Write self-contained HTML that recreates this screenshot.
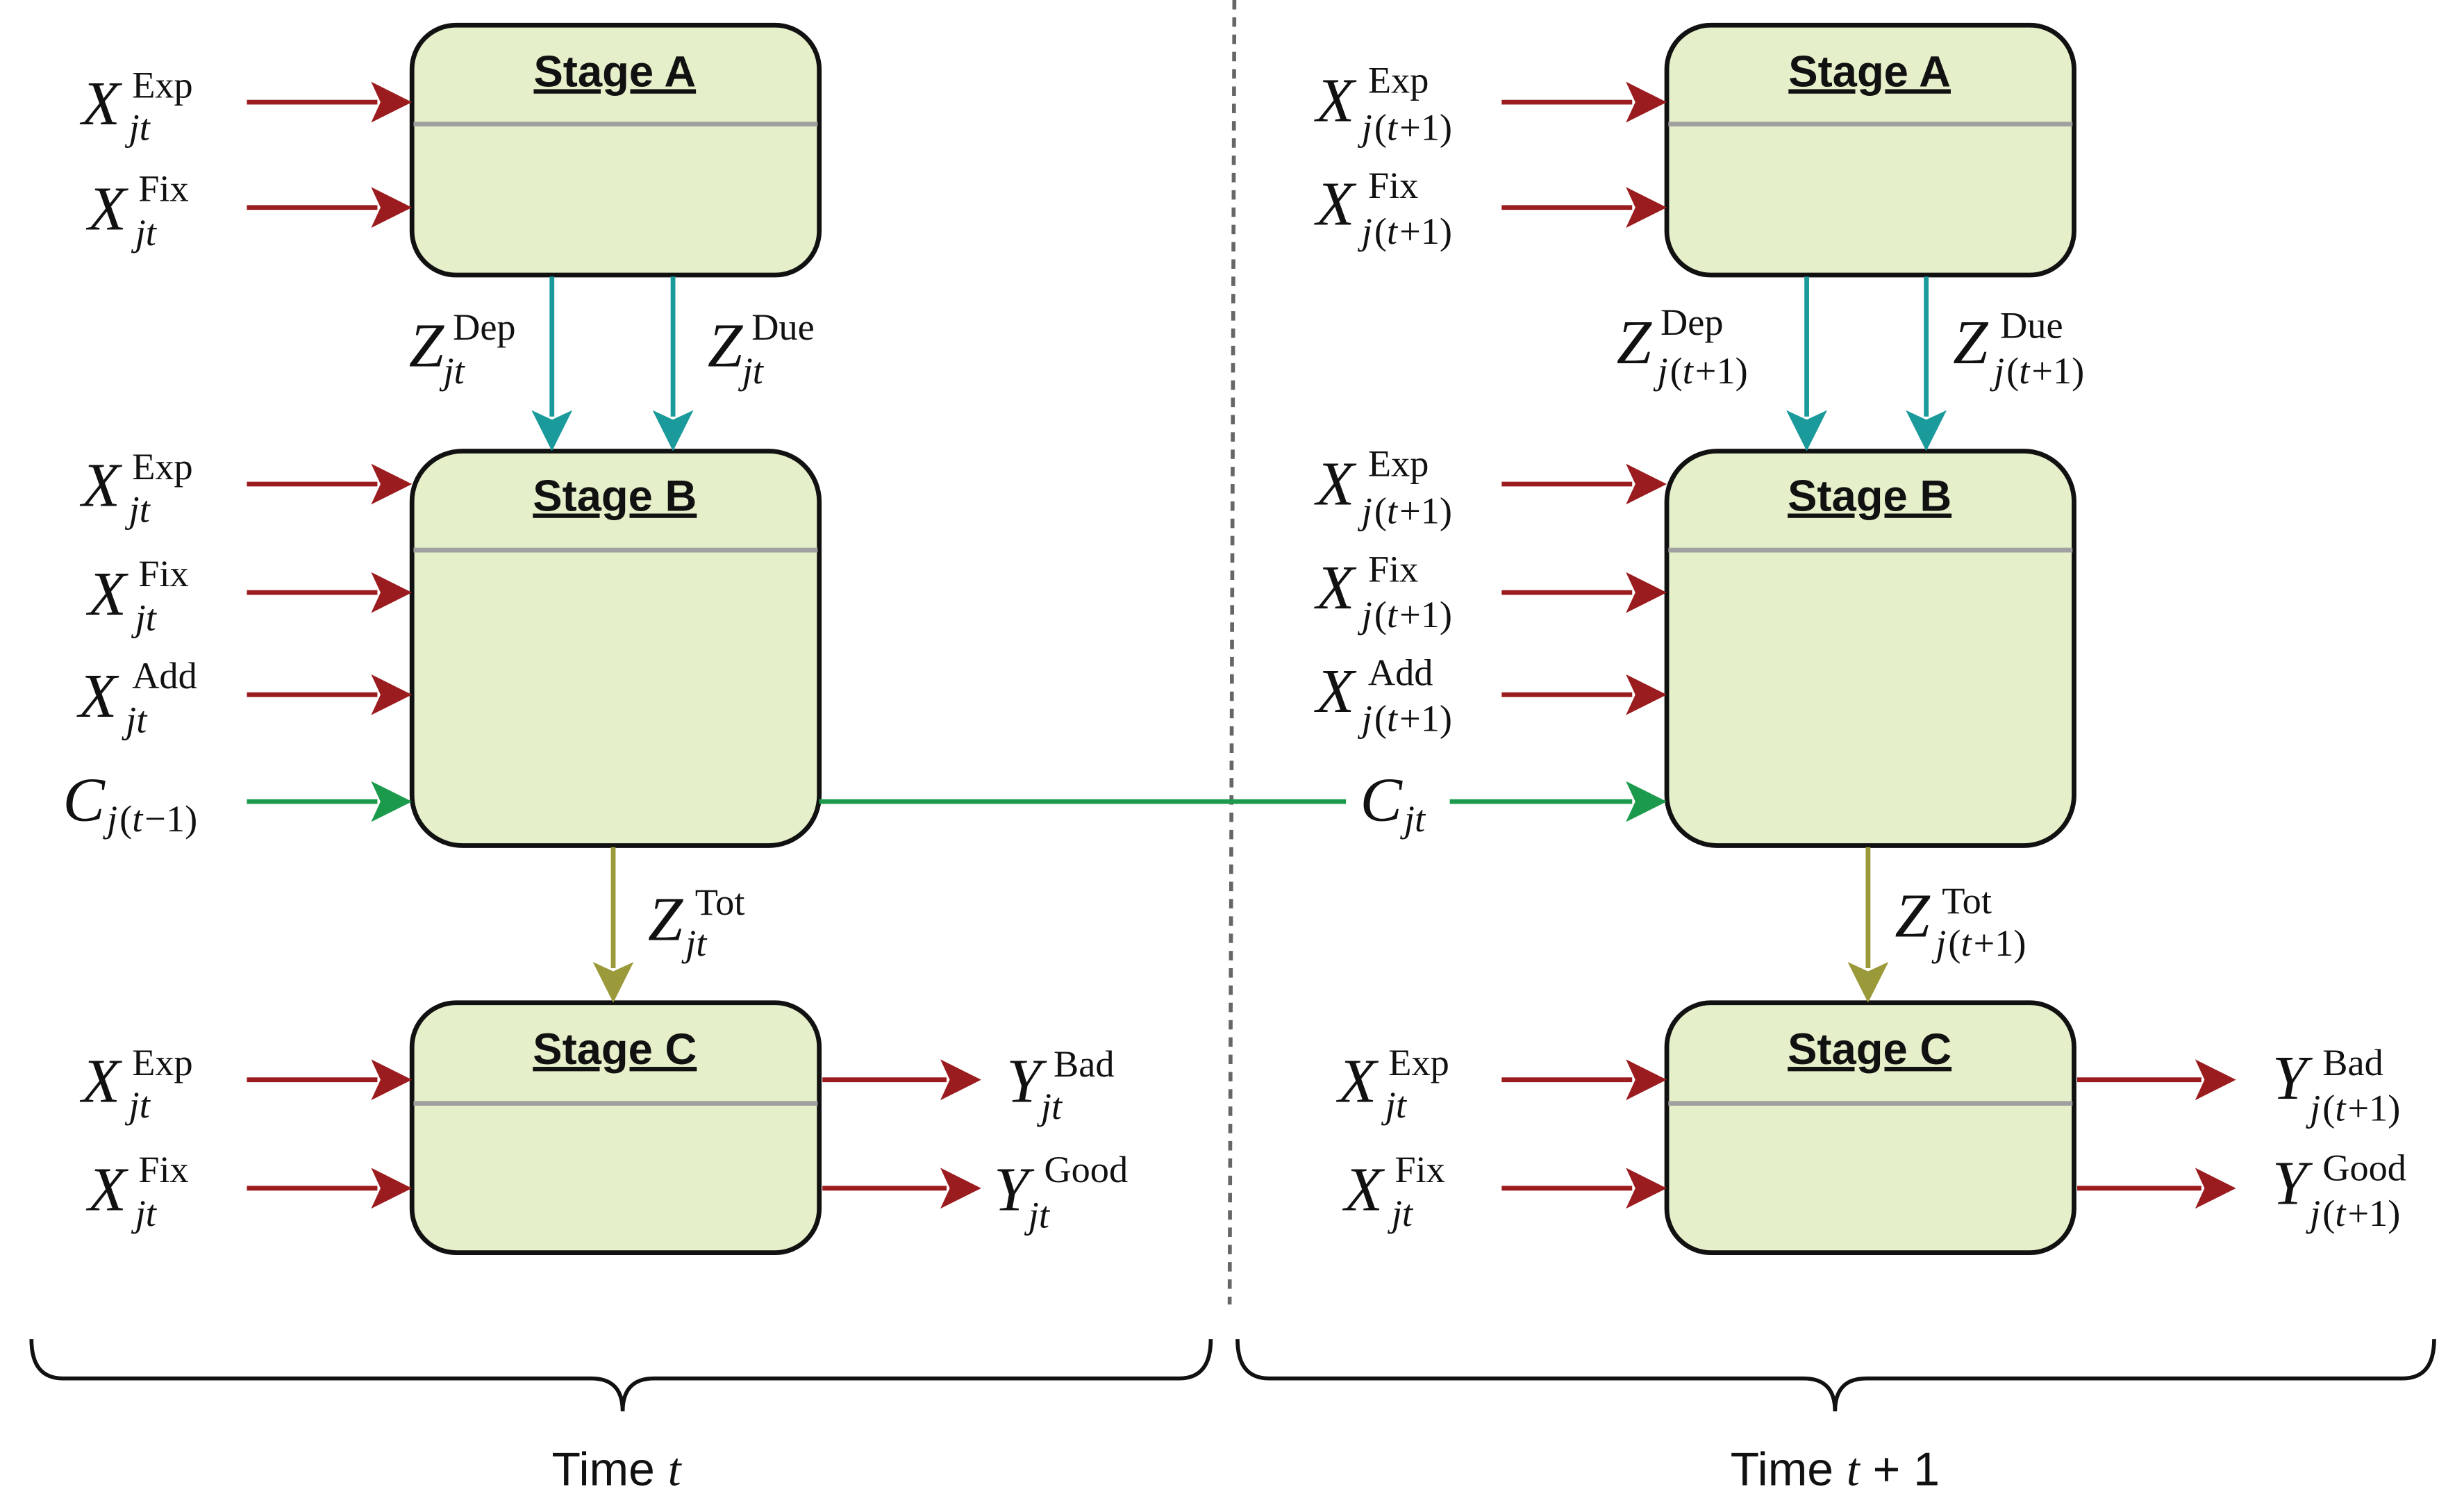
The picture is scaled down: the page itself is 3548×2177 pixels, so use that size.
<!DOCTYPE html>
<html><head><meta charset="utf-8"><style>
html,body{margin:0;padding:0;background:#fff}
svg{display:block}
.m{font-family:"Liberation Serif",serif;font-style:italic;font-size:40px;fill:#111}
.s{font-family:"Liberation Serif",serif;font-size:24px;fill:#111}
.i{font-family:"Liberation Serif",serif;font-style:italic;font-size:24px;fill:#111}
.t{font-family:"Liberation Sans",sans-serif;font-weight:bold;font-size:28px;fill:#111;text-decoration:underline}
.tm{font-family:"Liberation Sans",sans-serif;font-size:30px;fill:#111}
</style></head><body>
<svg width="3548" height="2177" viewBox="0 0 1567 962" preserveAspectRatio="none" xmlns="http://www.w3.org/2000/svg">
<style>
.box{fill:#e5efc9;stroke:#111;stroke-width:3}
.dv{stroke:#a0a0a0;stroke-width:3}
</style>
<line x1="785" y1="0" x2="782" y2="830" stroke="#666" stroke-width="2.5" stroke-dasharray="6,5"/>
<g>
<rect class="box" x="262" y="16" width="259" height="159" rx="28"/>
<line class="dv" x1="263" y1="79" x2="520" y2="79"/>
<rect class="box" x="262" y="287" width="259" height="251" rx="32"/>
<line class="dv" x1="263" y1="350" x2="520" y2="350"/>
<rect class="box" x="262" y="638" width="259" height="159" rx="28"/>
<line class="dv" x1="263" y1="702" x2="520" y2="702"/>
<rect class="box" x="1060" y="16" width="259" height="159" rx="28"/>
<line class="dv" x1="1061" y1="79" x2="1318" y2="79"/>
<rect class="box" x="1060" y="287" width="259" height="251" rx="32"/>
<line class="dv" x1="1061" y1="350" x2="1318" y2="350"/>
<rect class="box" x="1060" y="638" width="259" height="159" rx="28"/>
<line class="dv" x1="1061" y1="702" x2="1318" y2="702"/>
</g>
<g text-anchor="middle">
<text class="t" x="391" y="55">Stage A</text>
<text class="t" x="391" y="325">Stage B</text>
<text class="t" x="391" y="677">Stage C</text>
<text class="t" x="1189" y="55">Stage A</text>
<text class="t" x="1189" y="325">Stage B</text>
<text class="t" x="1189" y="677">Stage C</text>
</g>
<g stroke="#9b1c1f" stroke-width="3" fill="#9b1c1f">
<line x1="157" y1="65" x2="240" y2="65"/><path d="M236,52 L262,65 L236,78 L242,65Z" stroke="none"/>
<line x1="157" y1="132" x2="240" y2="132"/><path d="M236,119 L262,132 L236,145 L242,132Z" stroke="none"/>
<line x1="157" y1="308" x2="240" y2="308"/><path d="M236,295 L262,308 L236,321 L242,308Z" stroke="none"/>
<line x1="157" y1="377" x2="240" y2="377"/><path d="M236,364 L262,377 L236,390 L242,377Z" stroke="none"/>
<line x1="157" y1="442" x2="240" y2="442"/><path d="M236,429 L262,442 L236,455 L242,442Z" stroke="none"/>
<line x1="157" y1="687" x2="240" y2="687"/><path d="M236,674 L262,687 L236,700 L242,687Z" stroke="none"/>
<line x1="157" y1="756" x2="240" y2="756"/><path d="M236,743 L262,756 L236,769 L242,756Z" stroke="none"/>
<line x1="523" y1="687" x2="602" y2="687"/><path d="M598,674 L624,687 L598,700 L604,687Z" stroke="none"/>
<line x1="523" y1="756" x2="602" y2="756"/><path d="M598,743 L624,756 L598,769 L604,756Z" stroke="none"/>
<line x1="955" y1="65" x2="1038" y2="65"/><path d="M1034,52 L1060,65 L1034,78 L1040,65Z" stroke="none"/>
<line x1="955" y1="132" x2="1038" y2="132"/><path d="M1034,119 L1060,132 L1034,145 L1040,132Z" stroke="none"/>
<line x1="955" y1="308" x2="1038" y2="308"/><path d="M1034,295 L1060,308 L1034,321 L1040,308Z" stroke="none"/>
<line x1="955" y1="377" x2="1038" y2="377"/><path d="M1034,364 L1060,377 L1034,390 L1040,377Z" stroke="none"/>
<line x1="955" y1="442" x2="1038" y2="442"/><path d="M1034,429 L1060,442 L1034,455 L1040,442Z" stroke="none"/>
<line x1="955" y1="687" x2="1038" y2="687"/><path d="M1034,674 L1060,687 L1034,700 L1040,687Z" stroke="none"/>
<line x1="955" y1="756" x2="1038" y2="756"/><path d="M1034,743 L1060,756 L1034,769 L1040,756Z" stroke="none"/>
<line x1="1321" y1="687" x2="1400" y2="687"/><path d="M1396,674 L1422,687 L1396,700 L1402,687Z" stroke="none"/>
<line x1="1321" y1="756" x2="1400" y2="756"/><path d="M1396,743 L1422,756 L1396,769 L1402,756Z" stroke="none"/>
</g>
<g stroke="#1a9a4a" stroke-width="3" fill="#1a9a4a">
<line x1="157" y1="510" x2="240" y2="510"/><path d="M236,497 L262,510 L236,523 L242,510Z" stroke="none"/>
<line x1="521" y1="510" x2="856" y2="510"/>
<line x1="922" y1="510" x2="1038" y2="510"/><path d="M1034,497 L1060,510 L1034,523 L1040,510Z" stroke="none"/>
</g>
<g stroke="#1a9a9a" stroke-width="3" fill="#1a9a9a">
<line x1="351" y1="176" x2="351" y2="265"/><path d="M338,261 L351,287 L364,261 L351,267Z" stroke="none"/>
<line x1="428" y1="176" x2="428" y2="265"/><path d="M415,261 L428,287 L441,261 L428,267Z" stroke="none"/>
<line x1="1149" y1="176" x2="1149" y2="265"/><path d="M1136,261 L1149,287 L1162,261 L1149,267Z" stroke="none"/>
<line x1="1225" y1="176" x2="1225" y2="265"/><path d="M1212,261 L1225,287 L1238,261 L1225,267Z" stroke="none"/>
</g>
<g stroke="#9a9a3a" stroke-width="3" fill="#9a9a3a">
<line x1="390" y1="539" x2="390" y2="616"/><path d="M377,612 L390,638 L403,612 L390,618Z" stroke="none"/>
<line x1="1188" y1="539" x2="1188" y2="616"/><path d="M1175,612 L1188,638 L1201,612 L1188,618Z" stroke="none"/>
</g>
<g stroke="#111" stroke-width="2.5" fill="none">
<path d="M20,852 Q20,877 40,877 L376,877 Q396,877 396,898 Q396,877 416,877 L750,877 Q770,877 770,852"/>
<path d="M787,852 Q787,877 807,877 L1147,877 Q1167,877 1167,898 Q1167,877 1187,877 L1528,877 Q1548,877 1548,852"/>
</g>
<text class="tm" x="392" y="945" text-anchor="middle">Time <tspan font-family="Liberation Serif" font-style="italic">t</tspan></text>
<text class="tm" x="1167" y="945" text-anchor="middle">Time <tspan font-family="Liberation Serif" font-style="italic">t</tspan> + 1</text>
<g>
<text class="m" x="52" y="79">X</text><text class="s" x="84" y="62">Exp</text><text class="i" x="82" y="89">jt</text>
<text class="m" x="56" y="146">X</text><text class="s" x="88" y="128">Fix</text><text class="i" x="86" y="156">jt</text>
<text class="m" x="52" y="322">X</text><text class="s" x="84" y="305">Exp</text><text class="i" x="82" y="332">jt</text>
<text class="m" x="56" y="391">X</text><text class="s" x="88" y="373">Fix</text><text class="i" x="86" y="401">jt</text>
<text class="m" x="50" y="456">X</text><text class="s" x="84" y="438">Add</text><text class="i" x="80" y="466">jt</text>
<text class="m" x="40" y="522">C</text><text class="i" x="68" y="529">j</text><text class="s" x="76" y="529">(</text><text class="i" x="84" y="529">t</text><text class="s" x="92" y="529">−1)</text>
<text class="m" x="52" y="701">X</text><text class="s" x="84" y="684">Exp</text><text class="i" x="82" y="711">jt</text>
<text class="m" x="56" y="770">X</text><text class="s" x="88" y="752">Fix</text><text class="i" x="86" y="780">jt</text>
<text class="m" x="260" y="233">Z</text><text class="s" x="288" y="216">Dep</text><text class="i" x="282" y="244">jt</text>
<text class="m" x="450" y="233">Z</text><text class="s" x="478" y="216">Due</text><text class="i" x="472" y="244">jt</text>
<text class="m" x="412" y="598">Z</text><text class="s" x="442" y="582">Tot</text><text class="i" x="436" y="608">jt</text>
<text class="m" x="640" y="701">Y</text><text class="s" x="670" y="685">Bad</text><text class="i" x="662" y="712">jt</text>
<text class="m" x="632" y="770">Y</text><text class="s" x="664" y="752">Good</text><text class="i" x="654" y="781">jt</text>
</g>
<g>
<text class="m" x="837" y="77">X</text><text class="s" x="870" y="59">Exp</text><text class="i" x="866" y="89">j</text><text class="s" x="874" y="89">(</text><text class="i" x="882" y="89">t</text><text class="s" x="890" y="89">+1)</text>
<text class="m" x="837" y="143">X</text><text class="s" x="870" y="126">Fix</text><text class="i" x="866" y="155">j</text><text class="s" x="874" y="155">(</text><text class="i" x="882" y="155">t</text><text class="s" x="890" y="155">+1)</text>
<text class="m" x="837" y="321">X</text><text class="s" x="870" y="303">Exp</text><text class="i" x="866" y="333">j</text><text class="s" x="874" y="333">(</text><text class="i" x="882" y="333">t</text><text class="s" x="890" y="333">+1)</text>
<text class="m" x="837" y="387">X</text><text class="s" x="870" y="370">Fix</text><text class="i" x="866" y="399">j</text><text class="s" x="874" y="399">(</text><text class="i" x="882" y="399">t</text><text class="s" x="890" y="399">+1)</text>
<text class="m" x="837" y="453">X</text><text class="s" x="870" y="436">Add</text><text class="i" x="866" y="465">j</text><text class="s" x="874" y="465">(</text><text class="i" x="882" y="465">t</text><text class="s" x="890" y="465">+1)</text>
<text class="m" x="865" y="522">C</text><text class="i" x="893" y="529">jt</text>
<text class="m" x="851" y="701">X</text><text class="s" x="883" y="684">Exp</text><text class="i" x="881" y="711">jt</text>
<text class="m" x="855" y="770">X</text><text class="s" x="887" y="752">Fix</text><text class="i" x="885" y="780">jt</text>
<text class="m" x="1028" y="231">Z</text><text class="s" x="1056" y="213">Dep</text><text class="i" x="1054" y="244">j</text><text class="s" x="1062" y="244">(</text><text class="i" x="1070" y="244">t</text><text class="s" x="1078" y="244">+1)</text>
<text class="m" x="1242" y="231">Z</text><text class="s" x="1272" y="215">Due</text><text class="i" x="1268" y="244">j</text><text class="s" x="1276" y="244">(</text><text class="i" x="1284" y="244">t</text><text class="s" x="1292" y="244">+1)</text>
<text class="m" x="1205" y="596">Z</text><text class="s" x="1235" y="581">Tot</text><text class="i" x="1231" y="608">j</text><text class="s" x="1239" y="608">(</text><text class="i" x="1247" y="608">t</text><text class="s" x="1255" y="608">+1)</text>
<text class="m" x="1445" y="699">Y</text><text class="s" x="1477" y="684">Bad</text><text class="i" x="1469" y="713">j</text><text class="s" x="1477" y="713">(</text><text class="i" x="1485" y="713">t</text><text class="s" x="1493" y="713">+1)</text>
<text class="m" x="1445" y="766">Y</text><text class="s" x="1477" y="751">Good</text><text class="i" x="1469" y="780">j</text><text class="s" x="1477" y="780">(</text><text class="i" x="1485" y="780">t</text><text class="s" x="1493" y="780">+1)</text>
</g>
</svg>
</body></html>
